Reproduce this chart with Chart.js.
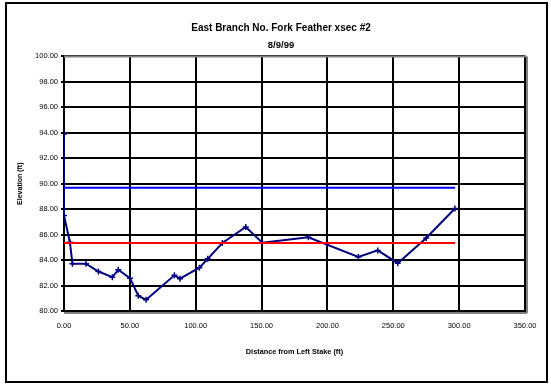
<!DOCTYPE html>
<html>
<head>
<meta charset="utf-8">
<script src="https://cdn.jsdelivr.net/npm/chart.js@4/dist/chart.umd.min.js"></script>
<style>
  html, body { margin: 0; padding: 0; background: #fff; }
  canvas { display: block; }
</style>
</head>
<body>
<canvas id="xsec" width="551" height="385"></canvas>
<script>
// surveyed cross-section, distance (ft) vs elevation (ft)
const distance = [0, 0, 4.5, 6.4, 16.7, 26.1, 36.7, 41.2, 50.1, 56.4, 62.3, 83.8, 88.1,
                  102.8, 109.1, 120.2, 138.0, 150.6, 185.5, 223.5, 238.2, 253.4, 275.0, 296.8];
const elevation = [93.9, 87.5, 85.4, 83.72, 83.72, 83.1, 82.66, 83.24, 82.58, 81.2, 80.88, 82.8, 82.54,
                   83.4, 84.1, 85.34, 86.6, 85.37, 85.79, 84.24, 84.76, 83.76, 85.73, 88.05];

// horizontal reference lines
const refStart = 0;
const refEnd = 297;
const blueLevel = 89.69;
const redLevel = 85.35;

const yTicks = [80, 82, 84, 86, 88, 90, 92, 94, 96, 98, 100];
const xTicks = [0, 50, 100, 150, 200, 250, 300, 350];

const FONT = "'Liberation Sans', Arial, sans-serif";

const profile = distance.map((d, i) => ({x: d, y: elevation[i]}));

const frame = {
  id: 'frame',
  beforeDatasetsDraw(chart) {
    const c = chart.ctx, a = chart.chartArea;
    c.save();
    c.strokeStyle = '#808080';
    c.lineWidth = 2;
    c.beginPath();
    c.moveTo(a.left, a.top); c.lineTo(a.right + 2, a.top);
    c.moveTo(a.right + 2, a.top); c.lineTo(a.right + 2, a.bottom + 2);
    c.moveTo(a.left, a.bottom + 2); c.lineTo(a.right + 2, a.bottom + 2);
    c.stroke();
    c.restore();
  },
  afterDraw(chart) {
    const c = chart.ctx;
    c.save();
    c.strokeStyle = '#000';
    c.lineWidth = 2;
    c.strokeRect(6, 3, 541, 379);
    c.restore();
  }
};

new Chart(document.getElementById('xsec').getContext('2d'), {
  type: 'line',
  data: {
    datasets: [
      {
        label: 'Water surface',
        data: [{x: refStart, y: blueLevel}, {x: refEnd, y: blueLevel}],
        borderColor: '#0000ff',
        borderWidth: 2,
        pointRadius: 0
      },
      {
        label: 'Bankfull',
        data: [{x: refStart, y: redLevel}, {x: refEnd, y: redLevel}],
        borderColor: '#ff0000',
        borderWidth: 2,
        pointRadius: 0
      },
      {
        label: 'Profile',
        data: profile,
        borderColor: '#000080',
        borderWidth: 2,
        pointStyle: 'cross',
        pointRadius: 3,
        pointBorderWidth: 1.5,
        pointBorderColor: '#000080',
        tension: 0
      }
    ]
  },
  options: {
    responsive: false,
    animation: false,
    layout: { padding: { left: 11, right: 0, top: 0, bottom: 0 } },
    plugins: {
      legend: { display: false },
      tooltip: { enabled: false },
      title: {
        display: true,
        text: 'East Branch No. Fork Feather xsec #2',
        color: '#000',
        font: { family: FONT, size: 10, weight: 'bold' },
        padding: { top: 22, bottom: 3 }
      },
      subtitle: {
        display: true,
        text: '8/9/99',
        color: '#000',
        font: { family: FONT, size: 9.5, weight: 'bold' },
        padding: { top: 3, bottom: 5 }
      }
    },
    scales: {
      x: {
        type: 'linear',
        min: 0,
        max: 350,
        afterBuildTicks: s => { s.ticks = xTicks.map(v => ({value: v})); },
        afterFit: s => { s.height = 74; },
        grid: { color: '#000', lineWidth: 2, tickLength: 0 },
        border: { color: '#000', width: 2 },
        ticks: {
          color: '#000',
          padding: 10,
          maxRotation: 0,
          font: { family: FONT, size: 7.5 },
          callback: v => v.toFixed(2)
        },
        title: {
          display: true,
          text: 'Distance from Left Stake (ft)',
          color: '#000',
          font: { family: FONT, size: 7.3, weight: 'bold' },
          padding: { top: 0, bottom: 29 }
        }
      },
      y: {
        type: 'linear',
        min: 80,
        max: 100,
        afterBuildTicks: s => { s.ticks = yTicks.map(v => ({value: v})); },
        afterFit: s => { s.width = 53; },
        grid: { color: '#000', lineWidth: 2, tickLength: 3 },
        border: { color: '#000', width: 2 },
        ticks: {
          color: '#000',
          padding: 3,
          font: { family: FONT, size: 7.5 },
          callback: v => v.toFixed(2)
        },
        title: {
          display: true,
          text: 'Elevation (ft)',
          color: '#000',
          font: { family: FONT, size: 7, weight: 'bold' },
          padding: { top: 5, bottom: 0 }
        }
      },
      // empty right-hand box so the plot ends where the reference does
      spacer: {
        type: 'linear',
        position: 'right',
        display: true,
        afterFit: s => { s.width = 26; },
        grid: { display: false },
        border: { display: false },
        ticks: { display: false }
      }
    }
  },
  plugins: [frame]
});
</script>
</body>
</html>
